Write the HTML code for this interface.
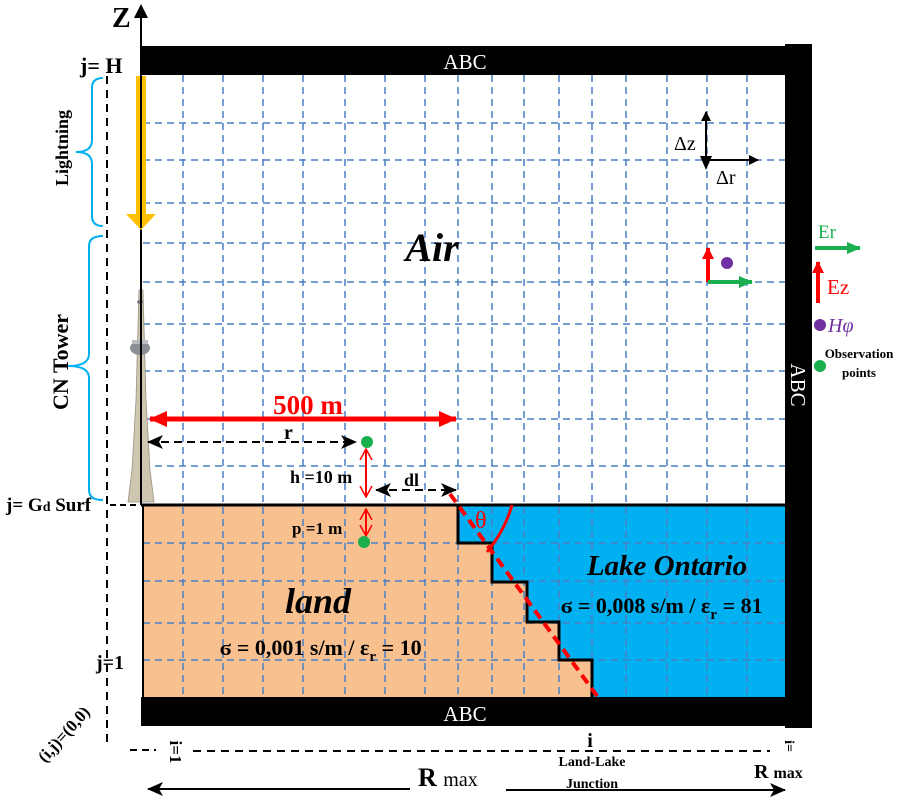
<!DOCTYPE html>
<html><head><meta charset="utf-8"><style>
body{margin:0;background:#fff}
svg{display:block;font-family:"Liberation Serif",serif}
</style></head><body>
<svg width="900" height="800" viewBox="0 0 900 800" xmlns="http://www.w3.org/2000/svg">
<defs>
<marker id="ab" markerWidth="10" markerHeight="10" refX="9" refY="5" orient="auto-start-reverse" markerUnits="userSpaceOnUse"><path d="M0,0 L10,5 L0,10 z" fill="#000"/></marker>
<marker id="ab2" markerWidth="16" markerHeight="14" refX="15" refY="7" orient="auto-start-reverse" markerUnits="userSpaceOnUse"><path d="M0,0 L16,7 L0,14 L4,7 z" fill="#000"/></marker>
<marker id="ar" markerWidth="18" markerHeight="16" refX="17" refY="8" orient="auto-start-reverse" markerUnits="userSpaceOnUse"><path d="M0,0 L18,8 L0,16 z" fill="#f00"/></marker>
<marker id="ag" markerWidth="14" markerHeight="12" refX="13" refY="6" orient="auto" markerUnits="userSpaceOnUse"><path d="M0,0 L14,6 L0,12 z" fill="#1aae4e"/></marker>
<marker id="arr" markerWidth="12" markerHeight="12" refX="11" refY="6" orient="auto" markerUnits="userSpaceOnUse"><path d="M0,0 L12,6 L0,12 z" fill="#f00"/></marker>
<marker id="ao" markerWidth="12" markerHeight="14" refX="11" refY="7" orient="auto-start-reverse" markerUnits="userSpaceOnUse"><path d="M0,1 L11,7 L0,13" fill="none" stroke="#f00" stroke-width="1.5"/></marker>
</defs>
<rect x="143" y="505" width="450" height="193" fill="#f8c08f"/>
<polygon points="458,505 785,505 785,698 592,698 592,660 559,660 559,622 527,622 527,582 492,582 492,543 458,543" fill="#00b0f0"/>
<g stroke="#4a7fc4" stroke-width="1.5" stroke-dasharray="7,5" fill="none">
<line x1="183" y1="75" x2="183" y2="697"/><line x1="223" y1="75" x2="223" y2="697"/>
<line x1="263" y1="75" x2="263" y2="697"/><line x1="303" y1="75" x2="303" y2="697"/>
<line x1="345" y1="75" x2="345" y2="697"/><line x1="385" y1="75" x2="385" y2="697"/>
<line x1="425" y1="75" x2="425" y2="697"/><line x1="458" y1="75" x2="458" y2="697"/>
<line x1="492" y1="75" x2="492" y2="697"/><line x1="524" y1="75" x2="524" y2="697"/>
<line x1="559" y1="75" x2="559" y2="697"/><line x1="592" y1="75" x2="592" y2="697"/>
<line x1="626" y1="75" x2="626" y2="697"/><line x1="667" y1="75" x2="667" y2="697"/>
<line x1="707" y1="75" x2="707" y2="697"/><line x1="747" y1="75" x2="747" y2="697"/>
<line x1="143" y1="123" x2="785" y2="123"/><line x1="143" y1="160" x2="785" y2="160"/>
<line x1="143" y1="203" x2="785" y2="203"/><line x1="143" y1="243" x2="785" y2="243"/>
<line x1="143" y1="282" x2="785" y2="282"/><line x1="143" y1="324" x2="785" y2="324"/>
<line x1="143" y1="371" x2="785" y2="371"/><line x1="143" y1="419" x2="785" y2="419"/>
<line x1="143" y1="466" x2="785" y2="466"/><line x1="143" y1="543" x2="785" y2="543"/>
<line x1="143" y1="581" x2="785" y2="581"/><line x1="143" y1="623" x2="785" y2="623"/>
<line x1="143" y1="660" x2="785" y2="660"/>
</g>
<polyline points="143,505 143,697" stroke="#000" stroke-width="2" fill="none"/>
<line x1="141" y1="505" x2="785" y2="505" stroke="#000" stroke-width="3"/>
<polyline points="458,505 458,543 492,543 492,582 527,582 527,622 559,622 559,660 592,660 592,698" stroke="#000" stroke-width="3" fill="none"/>
<line x1="450" y1="494" x2="600" y2="700" stroke="#f00" stroke-width="4" stroke-dasharray="10,6"/>
<path d="M512,505 Q505,530 487,552" stroke="#f00" stroke-width="3" fill="none"/>
<text x="475" y="528" font-size="24" fill="#f00">θ</text>
<rect x="141" y="46" width="660" height="29" fill="#000"/>
<rect x="141" y="697" width="660" height="29" fill="#000"/>
<rect x="785" y="44" width="27" height="684" fill="#000"/>
<text x="465" y="69" font-size="21" fill="#fff" text-anchor="middle">ABC</text>
<text x="465" y="721" font-size="21" fill="#fff" text-anchor="middle">ABC</text>
<text transform="translate(791,385) rotate(90)" font-size="21" fill="#fff" text-anchor="middle">ABC</text>
<line x1="141" y1="505" x2="141" y2="14" stroke="#000" stroke-width="2"/>
<path d="M134,18 L141,4 L148,18 z" fill="#000"/>
<text x="112" y="27" font-size="28" font-weight="bold">Z</text>
<text x="80" y="73" font-size="22" font-weight="bold">j= H</text>
<rect x="136" y="76" width="10" height="140" fill="#ffc000"/>
<path d="M126,214 L156,214 L141,230 z" fill="#ffc000"/>
<line x1="141" y1="76" x2="141" y2="228" stroke="#000" stroke-width="2"/>
<polygon points="139,290 143,290 146,400 150,470 154,502 128,502 132,470 136,400" fill="#cfc6b0" stroke="#9a9282" stroke-width="0.8"/>
<ellipse cx="140" cy="348" rx="10" ry="7" fill="#8a8f96"/>
<rect x="132" y="340" width="16" height="4" fill="#b8bcc2"/>
<ellipse cx="140" cy="302" rx="3" ry="2" fill="#777"/>
<line x1="141" y1="280" x2="141" y2="505" stroke="#000" stroke-width="2"/>
<line x1="107" y1="76" x2="107" y2="745" stroke="#000" stroke-width="2" stroke-dasharray="8,6"/>
<line x1="110" y1="505" x2="140" y2="505" stroke="#000" stroke-width="2" stroke-dasharray="6,4"/>
<path d="M103,78 Q92,78 92,88 L92,140 Q92,152 76,152 Q92,152 92,164 L92,216 Q92,226 103,226" stroke="#00b0f0" stroke-width="2" fill="none"/>
<path d="M103,236 Q89,236 89,246 L89,354 Q89,366 68,366 Q89,366 89,378 L89,490 Q89,500 103,500" stroke="#00b0f0" stroke-width="2" fill="none"/>
<text transform="translate(68,148) rotate(-90)" font-size="18" font-weight="bold" text-anchor="middle">Lightning</text>
<text transform="translate(68,362) rotate(-90)" font-size="22" font-weight="bold" text-anchor="middle">CN Tower</text>
<text x="6" y="511" font-size="19" font-weight="bold">j= G<tspan font-size="14">d</tspan> Surf</text>
<text x="96" y="669" font-size="20" font-weight="bold">j=1</text>
<text transform="translate(68,738) rotate(-48)" font-size="17" font-weight="bold" text-anchor="middle">(i,j)=(0,0)</text>
<text x="432" y="261" font-size="40" font-weight="bold" font-style="italic" text-anchor="middle">Air</text>
<line x1="150" y1="419" x2="456" y2="419" stroke="#f00" stroke-width="5" marker-end="url(#ar)" marker-start="url(#ar)"/>
<text x="308" y="414" font-size="27" font-weight="bold" fill="#f00" text-anchor="middle">500 m</text>
<line x1="148" y1="442" x2="356" y2="442" stroke="#000" stroke-width="2" stroke-dasharray="8,5" marker-start="url(#ab2)" marker-end="url(#ab2)"/>
<text x="284" y="439" font-size="20" font-weight="bold">r</text>
<circle cx="367" cy="442" r="6" fill="#1aae4e"/>
<line x1="366" y1="449" x2="366" y2="497" stroke="#f00" stroke-width="2" marker-start="url(#ao)" marker-end="url(#ao)"/>
<text x="290" y="483" font-size="18" font-weight="bold">h =10 m</text>
<line x1="376" y1="490" x2="456" y2="490" stroke="#000" stroke-width="2" stroke-dasharray="8,5" marker-start="url(#ab2)" marker-end="url(#ab2)"/>
<text x="404" y="486" font-size="18" font-weight="bold">dl</text>
<line x1="366" y1="509" x2="366" y2="536" stroke="#f00" stroke-width="2" marker-start="url(#ao)" marker-end="url(#ao)"/>
<text x="292" y="534" font-size="17" font-weight="bold">p =1 m</text>
<circle cx="364" cy="542" r="6" fill="#1aae4e"/>
<text x="318" y="613" font-size="36" font-weight="bold" font-style="italic" text-anchor="middle">land</text>
<text x="220" y="655" font-size="22" font-weight="bold">ϭ = 0,001 s/m / ε<tspan font-size="15" dy="6">r</tspan><tspan dy="-6"> = 10</tspan></text>
<text x="667" y="575" font-size="29" font-weight="bold" font-style="italic" text-anchor="middle">Lake Ontario</text>
<text x="561" y="613" font-size="22" font-weight="bold">ϭ = 0,008 s/m / ε<tspan font-size="15" dy="6">r</tspan><tspan dy="-6"> = 81</tspan></text>
<line x1="706" y1="160" x2="706" y2="112" stroke="#000" stroke-width="2" marker-end="url(#ab)"/>
<path d="M700,156 L706,170 L712,156 z" fill="#000"/>
<line x1="706" y1="160" x2="758" y2="160" stroke="#000" stroke-width="2" marker-end="url(#ab)"/>
<text x="674" y="150" font-size="20">Δz</text>
<text x="716" y="184" font-size="20">Δr</text>
<line x1="708" y1="282" x2="708" y2="248" stroke="#f00" stroke-width="4" marker-end="url(#arr)"/>
<line x1="708" y1="282" x2="752" y2="282" stroke="#1aae4e" stroke-width="4" marker-end="url(#ag)"/>
<circle cx="727" cy="263" r="6" fill="#7030a0"/>
<line x1="815" y1="248" x2="860" y2="248" stroke="#1aae4e" stroke-width="4" marker-end="url(#ag)"/>
<text x="818" y="238" font-size="19" fill="#1aae4e">Er</text>
<line x1="818" y1="303" x2="818" y2="262" stroke="#f00" stroke-width="4" marker-end="url(#arr)"/>
<text x="827" y="294" font-size="21" fill="#f00">Ez</text>
<circle cx="820" cy="325" r="6" fill="#7030a0"/>
<text x="828" y="332" font-size="20" font-style="italic" fill="#7030a0">Hφ</text>
<circle cx="820" cy="366" r="6" fill="#1aae4e"/>
<text x="859" y="358" font-size="13" font-weight="bold" text-anchor="middle">Observation</text>
<text x="859" y="377" font-size="13" font-weight="bold" text-anchor="middle">points</text>
<line x1="130" y1="750" x2="156" y2="750" stroke="#000" stroke-width="2" stroke-dasharray="7,5"/>
<line x1="193" y1="751" x2="770" y2="751" stroke="#000" stroke-width="2" stroke-dasharray="8,6"/>
<text transform="translate(170,752) rotate(90)" font-size="17" font-weight="bold" text-anchor="middle">i=1</text>
<text transform="translate(785,746) rotate(90)" font-size="14" font-weight="bold" text-anchor="middle">i=</text>
<text x="590" y="747" font-size="20" font-weight="bold" text-anchor="middle">i</text>
<text x="592" y="766" font-size="14" font-weight="bold" text-anchor="middle">Land-Lake</text>
<text x="592" y="788" font-size="14" font-weight="bold" text-anchor="middle">Junction</text>
<text x="754" y="778" font-size="20" font-weight="bold">R <tspan font-size="16">max</tspan></text>
<line x1="410" y1="789" x2="148" y2="789" stroke="#000" stroke-width="2" marker-end="url(#ab2)"/>
<line x1="506" y1="790" x2="785" y2="790" stroke="#000" stroke-width="2" marker-end="url(#ab2)"/>
<text x="418" y="786" font-size="26" font-weight="bold">R <tspan font-size="20" font-weight="normal">max</tspan></text>
</svg>
</body></html>
